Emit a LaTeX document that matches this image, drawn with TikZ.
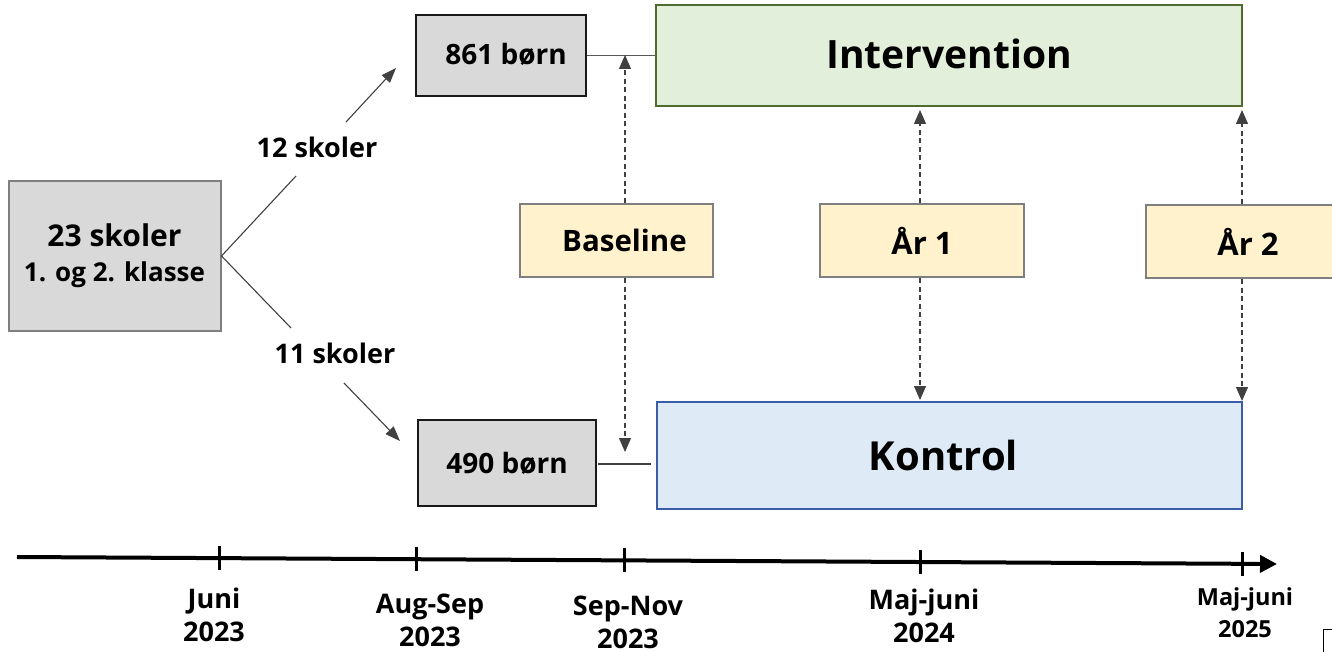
\documentclass[tikz,border=0pt]{standalone}
\usepackage{fontspec}
\setmainfont{Open Sans}
\usetikzlibrary{arrows.meta}
\definecolor{gfill}{HTML}{D9D9D9}
\definecolor{gline}{HTML}{7F7F7F}
\definecolor{yfill}{HTML}{FFF2CC}
\definecolor{ifill}{HTML}{E2EFDA}
\definecolor{iline}{HTML}{4F6B2F}
\definecolor{kfill}{HTML}{DEEAF6}
\definecolor{kline}{HTML}{3B5CA6}
\definecolor{dline}{HTML}{404040}
\begin{document}
\begin{tikzpicture}[x=1pt,y=-1pt,
  every node/.style={font=\bfseries, inner sep=0pt},
  graybox/.style={draw=gline, fill=gfill, line width=2pt},
  kidbox/.style={draw=black!90, fill=gfill, line width=2.5pt},
  yelbox/.style={draw=gline, fill=yfill, line width=2pt, minimum height=73pt},
  dasharrow/.style={draw=dline, line width=1.1pt, dash pattern=on 5pt off 3.5pt, -{Triangle[width=12pt,length=14pt]}},
  splitline/.style={draw=dline, line width=1.1pt},
  splitarrow/.style={draw=dline, line width=1.1pt, -{Triangle[width=11pt,length=15pt]}},
  tick/.style={line width=3pt},
  tlabel/.style={font=\bfseries\fontsize{27}{33}\selectfont, align=center}
]
\clip (0,0) rectangle (1332,652);

% boxes
\node[graybox, minimum width=212pt, minimum height=150pt, align=center,
      font=\bfseries\fontsize{30}{35}\selectfont] (s23) at (114.5,256)
  {\raisebox{6pt}{23 skoler}\\{\fontsize{26}{30}\selectfont \raisebox{6pt}{1. og 2. klasse}}};
\node[kidbox, minimum width=170pt, minimum height=81pt] (n861) at (501,55.5)
  {\fontsize{28}{32}\selectfont\hspace*{10pt}\raisebox{3pt}{861 børn}};
\node[kidbox, minimum width=178pt, minimum height=86pt] (n490) at (507,463)
  {\fontsize{28}{32}\selectfont 490 børn};
\node[draw=iline, fill=ifill, line width=2pt, minimum width=586pt, minimum height=101pt] (int) at (949,55.5)
  {\fontsize{39}{44}\selectfont\raisebox{4pt}{Intervention}};
\node[draw=kline, fill=kfill, line width=2pt, minimum width=585pt, minimum height=107pt] (kon) at (949.5,455.5)
  {\fontsize{40}{44}\selectfont Kontrol\hspace*{12pt}};
\node[yelbox, minimum width=193pt] (base) at (616.5,240.5)
  {\fontsize{29.5}{34}\selectfont\hspace*{16pt}Baseline};
\node[yelbox, minimum width=204pt] (ar1) at (922,240.5)
  {\fontsize{31}{34}\selectfont År 1};
\node[yelbox, minimum width=204pt] (ar2) at (1248,241.5)
  {\fontsize{31}{34}\selectfont År 2};

% split labels
\node[font=\bfseries\fontsize{27}{30}\selectfont] (l12) at (317,147) {12 skoler};
\node[font=\bfseries\fontsize{27}{30}\selectfont] (l11) at (335,353) {11 skoler};

\coordinate (u1) at (296,176);
\coordinate (u2) at (346,122);
\coordinate (u3) at (396,68);
\coordinate (d1) at (291,328);
\coordinate (d2) at (344,383);
\coordinate (d3) at (400,441);
\path[splitline] (s23.east) -- (u1);
\path[splitarrow] (u2) -- (u3);
\path[splitline] (s23.east) -- (d1);
\path[splitarrow] (d2) -- (d3);

% group connectors
\draw[draw=black!65, line width=1.3pt] (n861.east) -- (int.west);
\coordinate (k0) at (651,464);
\draw[draw=black!75, line width=1.3pt] (598,464) coordinate (k1) -- (k0);

% measurement arrows
\coordinate (bu) at (625,55);
\coordinate (bd) at (625,452);
\coordinate (a1u) at (920,110);
\coordinate (a1d) at (920,400);
\coordinate (a2u) at (1242,110);
\coordinate (a2d) at (1242,401);
\path[dasharrow] (base.north -| bu) -- (bu);
\path[dasharrow] (base.south -| bd) -- (bd);
\path[dasharrow] (ar1.north -| a1u) -- (a1u);
\path[dasharrow] (ar1.south -| a1d) -- (a1d);
\path[dasharrow] (ar2.north -| a2u) -- (a2u);
\path[dasharrow] (ar2.south -| a2d) -- (a2d);

% timeline
\coordinate (tl0) at (17,557);
\coordinate (tl1) at (1277,564);
\draw[line width=4pt, -{Triangle[width=17pt,length=17pt]}] (tl0) -- (tl1);
\draw[tick] (219,546) -- (219,570);
\draw[tick] (416,547) -- (416,571);
\draw[tick] (624,548) -- (624,572);
\draw[tick] (920,550) -- (920,574);
\draw[tick] (1242,552) -- (1242,576);

\node[tlabel] (tj) at (214,615) {Juni\\2023};
\node[tlabel] (ta) at (430,620) {Aug-Sep\\2023};
\node[tlabel] (ts) at (628,622) {Sep-Nov\\2023};
\node[tlabel] (tm1) at (924,616) {Maj-juni\\2024};
\node[tlabel, font=\bfseries\fontsize{23.5}{32}\selectfont] (tm2) at (1245,613) {Maj-juni\\2025};

% stray corner mark
\draw[line width=1pt] (1332,629) -- (1323,629) -- (1323,652);
\end{tikzpicture}
\end{document}
